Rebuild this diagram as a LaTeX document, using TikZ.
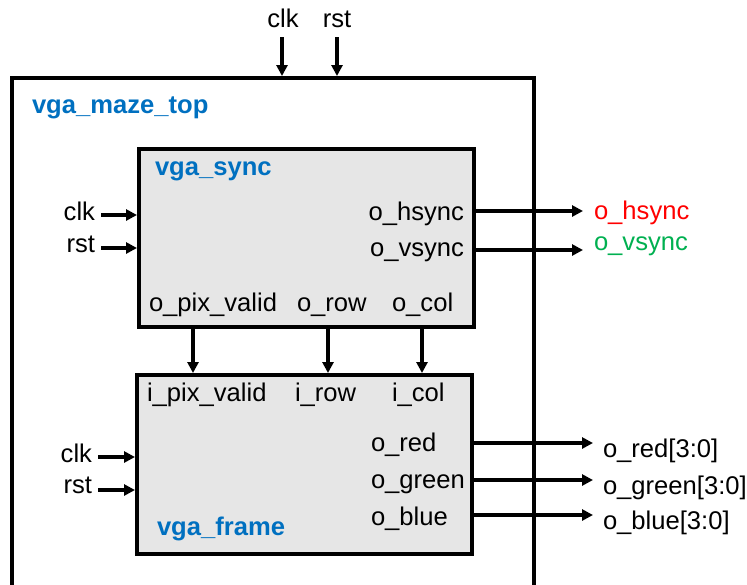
\documentclass[tikz,border=0pt]{standalone}
\usepackage{fontspec}
\setmainfont{Liberation Sans}
\usetikzlibrary{arrows.meta}
\definecolor{hdrblue}{HTML}{0070C0}
\definecolor{sigred}{HTML}{FF0000}
\definecolor{siggreen}{HTML}{00B050}
\definecolor{blkfill}{HTML}{E6E6E6}
\tikzset{
  lbl/.style={font=\fontsize{25.6}{30}\selectfont, inner sep=0pt, outer sep=0pt},
  title/.style={font=\fontsize{25.6}{30}\selectfont\bfseries, text=hdrblue, inner sep=0pt, outer sep=0pt},
  blk/.style={draw, line width=4pt, fill=blkfill, inner sep=0pt, outer sep=0pt},
  arr/.style={line width=3.5pt, -{Triangle[length=11pt,width=11pt]}},
}
\begin{document}
\begin{tikzpicture}[x=1pt,y=-1pt]
\useasboundingbox (0,0) rectangle (747,584);
% outer module
\node[anchor=north west, minimum width=522, minimum height=520, inner sep=0pt, outer sep=0pt] (top) at (12,78) {};
\draw[line width=4pt] (top.south west) -- (top.north west) -- (top.north east) -- (top.south east);
\node[title, anchor=base west] (topT) at (32,113) {vga\_maze\_top};
% top inputs
\node[lbl, anchor=base] (tclk) at (283,27) {clk};
\node[lbl, anchor=base] (trst) at (337,27) {rst};
\coordinate (tclkS) at (282,37);
\coordinate (trstS) at (337,37);
\draw[arr, shorten >=2pt] (tclkS) -- (tclkS |- top.north);
\draw[arr, shorten >=2pt] (trstS) -- (trstS |- top.north);
% vga_sync
\node[blk, anchor=north west, minimum width=335, minimum height=178] (sync) at (139,149) {};
\node[title, anchor=base west] (syncT) at (155,175) {vga\_sync};
\node[lbl, anchor=base east] (ohs) at (464,220) {o\_hsync};
\node[lbl, anchor=base east] (ovs) at (464,256) {o\_vsync};
\node[lbl, anchor=base west] (opv) at (149,311) {o\_pix\_valid};
\node[lbl, anchor=base west] (orow) at (297,311) {o\_row};
\node[lbl, anchor=base west] (ocol) at (392,311) {o\_col};
% sync inputs
\node[lbl, anchor=base east] (sclk) at (95,220) {clk};
\node[lbl, anchor=base east] (srst) at (95,252) {rst};
\coordinate (sclkA) at (101,215);
\coordinate (srstA) at (101,248);
\draw[arr, shorten >=2pt] (sclkA) -- (sclkA -| sync.west);
\draw[arr, shorten >=2pt] (srstA) -- (srstA -| sync.west);
% sync outputs
\coordinate (hsE) at (583,211);
\coordinate (vsE) at (583,250);
\draw[arr] (sync.east |- hsE) -- (hsE);
\draw[arr] (sync.east |- vsE) -- (vsE);
\node[lbl, anchor=base west, text=sigred] (hsL) at (594,219) {o\_hsync};
\node[lbl, anchor=base west, text=siggreen] (vsL) at (594,250) {o\_vsync};
% vga_frame
\node[blk, anchor=north west, minimum width=335, minimum height=179] (frame) at (137,375) {};
\node[title, anchor=base west] (frameT) at (157,535) {vga\_frame};
\node[lbl, anchor=base west] (ipv) at (147,401) {i\_pix\_valid};
\node[lbl, anchor=base west] (irow) at (295,401) {i\_row};
\node[lbl, anchor=base west] (icol) at (392,401) {i\_col};
\node[lbl, anchor=base west] (ored) at (371,451) {o\_red};
\node[lbl, anchor=base west] (ogrn) at (371,488) {o\_green};
\node[lbl, anchor=base west] (oblu) at (371,525) {o\_blue};
% sync -> frame
\coordinate (v1) at (193,0);
\coordinate (v2) at (328,0);
\coordinate (v3) at (422,0);
\draw[arr, shorten >=2pt] (sync.south -| v1) -- (frame.north -| v1);
\draw[arr, shorten >=2pt] (sync.south -| v2) -- (frame.north -| v2);
\draw[arr, shorten >=2pt] (sync.south -| v3) -- (frame.north -| v3);
% frame inputs
\node[lbl, anchor=base east] (fclk) at (92,462) {clk};
\node[lbl, anchor=base east] (frst) at (92,493) {rst};
\coordinate (fclkA) at (98,457);
\coordinate (frstA) at (98,490);
\draw[arr, shorten >=2pt] (fclkA) -- (fclkA -| frame.west);
\draw[arr, shorten >=2pt] (frstA) -- (frstA -| frame.west);
% frame outputs
\coordinate (rE) at (593,443);
\coordinate (gE) at (593,480);
\coordinate (bE) at (593,515);
\draw[arr] (frame.east |- rE) -- (rE);
\draw[arr] (frame.east |- gE) -- (gE);
\draw[arr] (frame.east |- bE) -- (bE);
\node[lbl, anchor=base west] (rL) at (603,457) {o\_red[3:0]};
\node[lbl, anchor=base west] (gL) at (603,494) {o\_green[3:0]};
\node[lbl, anchor=base west] (bL) at (603,529) {o\_blue[3:0]};
\end{tikzpicture}
\end{document}
